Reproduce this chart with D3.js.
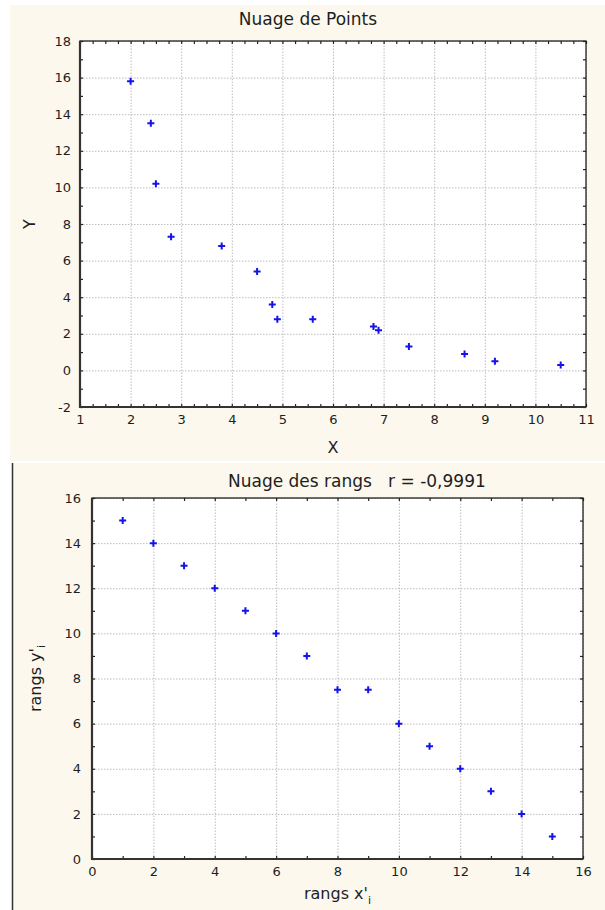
<!DOCTYPE html>
<html>
<head>
<meta charset="utf-8">
<script src="https://cdn.jsdelivr.net/npm/d3@7"></script>
<style>
  body { margin: 0; background: #fff; }
  svg text { font-family: "DejaVu Sans", sans-serif; fill: #1e1e1e; }
</style>
</head>
<body>
<div id="chart"></div>
<script>
// raw data: X / Y
var xValues = [2.0, 2.4, 2.5, 2.8, 3.8, 4.5, 4.8, 4.9, 5.6, 6.8, 6.9, 7.5, 8.6, 9.2, 10.5];
var yValues = [15.8, 13.5, 10.2, 7.3, 6.8, 5.4, 3.6, 2.8, 2.8, 2.4, 2.2, 1.3, 0.9, 0.5, 0.3];

// ranks
var rankX = [1, 2, 3, 4, 5, 6, 7, 8, 9, 10, 11, 12, 13, 14, 15];
var rankY = [15, 14, 13, 12, 11, 10, 9, 7.5, 7.5, 6, 5, 4, 3, 2, 1];

// tick labels
var topXTicks = [1, 2, 3, 4, 5, 6, 7, 8, 9, 10, 11];
var topYTicks = [-2, 0, 2, 4, 6, 8, 10, 12, 14, 16, 18];
var botXTicks = [0, 2, 4, 6, 8, 10, 12, 14, 16];
var botYTicks = [0, 2, 4, 6, 8, 10, 12, 14, 16];

var svg = d3.select("#chart").append("svg")
    .attr("width", 605)
    .attr("height", 910);

// plain hyphen for negatives, like the original
var fmt = function(d) { return String(d); };

function drawPanel(o) {
  var g = svg.append("g");

  g.append("rect")
      .attr("x", o.panel[0]).attr("y", o.panel[1])
      .attr("width", o.panel[2]).attr("height", o.panel[3])
      .attr("fill", "#fcf8ed");

  if (o.leftBorder) {
    g.append("line")
        .attr("x1", o.panel[0] + 0.5).attr("x2", o.panel[0] + 0.5)
        .attr("y1", o.panel[1]).attr("y2", o.panel[1] + o.panel[3])
        .attr("stroke", "#333").attr("stroke-width", 1.5);
  }

  var x = d3.scaleLinear().domain(o.xDomain).range([o.left, o.right]);
  var y = d3.scaleLinear().domain(o.yDomain).range([o.bottom, o.top]);
  var h = o.bottom - o.top, w = o.right - o.left;

  g.append("rect")
      .attr("x", o.left).attr("y", o.top)
      .attr("width", w).attr("height", h)
      .attr("fill", "#fff");

  // dotted grid
  var grid = g.append("g").attr("class", "grid");
  grid.append("g")
      .attr("transform", "translate(0," + o.bottom + ")")
      .call(d3.axisBottom(x).tickValues(o.xTicks).tickSize(-h).tickFormat(""));
  grid.append("g")
      .attr("transform", "translate(" + o.left + ",0)")
      .call(d3.axisLeft(y).tickValues(o.yTicks).tickSize(-w).tickFormat(""));
  grid.selectAll(".domain").remove();
  grid.selectAll("line")
      .attr("stroke", "#bdbdbd")
      .attr("stroke-dasharray", "1.5,1.5");

  // small inside ticks on all four sides
  var ticks = g.append("g");
  ticks.append("g").attr("transform", "translate(0," + o.bottom + ")")
      .call(d3.axisBottom(x).tickValues(o.xMinor).tickSize(-3).tickFormat(""));
  ticks.append("g").attr("transform", "translate(0," + o.top + ")")
      .call(d3.axisTop(x).tickValues(o.xMinor).tickSize(-3).tickFormat(""));
  ticks.append("g").attr("transform", "translate(" + o.left + ",0)")
      .call(d3.axisLeft(y).tickValues(o.yMinor).tickSize(-3).tickFormat(""));
  ticks.append("g").attr("transform", "translate(" + o.right + ",0)")
      .call(d3.axisRight(y).tickValues(o.yMinor).tickSize(-3).tickFormat(""));
  ticks.selectAll(".domain").remove();
  ticks.selectAll("line").attr("stroke", "#222").attr("stroke-width", 1.2);

  // frame
  g.append("rect")
      .attr("x", o.left).attr("y", o.top)
      .attr("width", w).attr("height", h)
      .attr("fill", "none")
      .attr("stroke", "#222").attr("stroke-width", 1.3);
  g.append("path")
      .attr("d", "M" + o.left + "," + o.top + "V" + o.bottom + "H" + o.right)
      .attr("fill", "none")
      .attr("stroke", "#333").attr("stroke-width", 2.2);

  // tick labels
  var xl = g.append("g").attr("transform", "translate(0," + o.bottom + ")")
      .call(d3.axisBottom(x).tickValues(o.xTicks).tickSize(0).tickPadding(8).tickFormat(fmt));
  var yl = g.append("g").attr("transform", "translate(" + o.left + ",0)")
      .call(d3.axisLeft(y).tickValues(o.yTicks).tickSize(0).tickPadding(o.yPad).tickFormat(fmt));
  [xl, yl].forEach(function(a) {
    a.select(".domain").remove();
    a.attr("font-family", null).attr("font-size", null);
    a.selectAll("text").attr("font-size", 13).attr("fill", "#1e1e1e");
  });

  // points
  g.append("g").selectAll("path")
      .data(o.xs)
      .join("path")
      .attr("transform", function(d, i) { return "translate(" + x(d) + "," + y(o.ys[i]) + ")"; })
      .attr("d", "M-3.5,0H3.5M0,-3.5V3.5")
      .attr("stroke", "#1414e6")
      .attr("stroke-width", 2);

  // title
  g.append("text")
      .attr("x", o.titleX).attr("y", o.titleY)
      .attr("text-anchor", o.titleAnchor)
      .attr("font-size", 17)
      .attr("xml:space", "preserve")
      .text(o.title);

  // x label
  var xt = g.append("text")
      .attr("x", (o.left + o.right) / 2).attr("y", o.xLabelY)
      .attr("text-anchor", "middle")
      .attr("font-size", 16);
  xt.append("tspan").text(o.xLabel);
  if (o.xSub) xt.append("tspan").attr("dy", 5).attr("font-size", 11).text(o.xSub);

  // y label
  var yt = g.append("text")
      .attr("transform", "translate(" + o.yLabelX + "," + ((o.top + o.bottom) / 2) + ") rotate(-90)")
      .attr("text-anchor", "middle")
      .attr("font-size", 16);
  yt.append("tspan").text(o.yLabel);
  if (o.ySub) yt.append("tspan").attr("dy", 4).attr("font-size", 11).text(o.ySub);
}

drawPanel({
  panel: [10, 5, 595, 456],
  leftBorder: false,
  left: 80, right: 586, top: 41, bottom: 407,
  xDomain: [1, 11], yDomain: [-2, 18],
  xTicks: topXTicks, yTicks: topYTicks,
  xMinor: d3.range(1, 11.001, 0.25), yMinor: d3.range(-2, 18.001, 1),
  yPad: 9,
  xs: xValues, ys: yValues,
  title: "Nuage de Points", titleX: 308, titleY: 25, titleAnchor: "middle",
  xLabel: "X", xLabelY: 453,
  yLabel: "Y", yLabelX: 35
});

drawPanel({
  panel: [12, 463, 593, 447],
  leftBorder: true,
  left: 92, right: 583, top: 498, bottom: 859,
  xDomain: [0, 16], yDomain: [0, 16],
  xTicks: botXTicks, yTicks: botYTicks,
  xMinor: d3.range(0, 16.001, 1), yMinor: d3.range(0, 16.001, 1),
  yPad: 11,
  xs: rankX, ys: rankY,
  title: "Nuage des rangs   r = -0,9991", titleX: 228, titleY: 487, titleAnchor: "start",
  xLabel: "rangs x'", xSub: "i", xLabelY: 899,
  yLabel: "rangs y'", ySub: "i", yLabelX: 41
});
</script>
</body>
</html>
